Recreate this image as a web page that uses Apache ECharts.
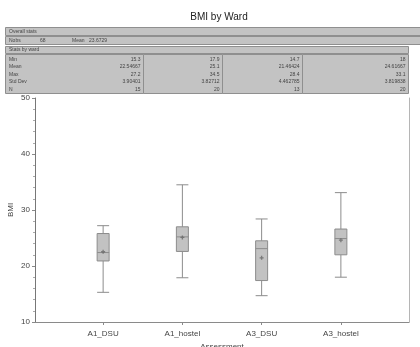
<!DOCTYPE html>
<html>
  <head>
    <meta charset="utf-8" />
    <title>BMI by Ward</title>
    <script src="https://cdn.jsdelivr.net/npm/echarts/dist/echarts.min.js"></script>
  </head>
  <body style="margin:0">
    <div id="main" style="width: 420px; height: 347px"></div>
    <script type="text/javascript">
      var myChart = echarts.init(document.getElementById('main'));

      // 病区
      var wards = ['A1_DSU', 'A1_hostel', 'A3_DSU', 'A3_hostel'];
      // [min, Q1, median, Q3, max]
      var boxes = [
        [15.3, 20.9, 22.4, 25.8, 27.2],
        [17.9, 22.6, 25.2, 27.0, 34.5],
        [14.7, 17.4, 23.1, 24.5, 28.4],
        [18.0, 22.0, 24.9, 26.6, 33.1]
      ];
      var means = [22.55, 25.1, 21.46, 24.62];
      var yTicks = [10, 50, 10]; // min, max, interval

      // 上方统计表
      var overallRow = ['Nobs', '68', 'Mean', '23.6729'];
      var statNames = ['Min', 'Mean', 'Max', 'Std Dev', 'N'];
      var statValues = [
        ['15.3', '22.54667', '27.2', '3.90401', '15'],
        ['17.9', '25.1', '34.5', '3.82712', '20'],
        ['14.7', '21.46424', '28.4', '4.462785', '13'],
        ['18', '24.61667', '33.1', '3.819838', '20']
      ];

      var font = 'Liberation Sans, Arial, sans-serif';
      var panel = '#c3c3c3';
      var edge = '#8f8f8f';
      var txt = { fontSize: 5, fill: '#444', fontFamily: font };

      function rect(x, y, w, h) {
        return { type: 'rect', shape: { x: x, y: y, width: w, height: h },
          style: { fill: panel, stroke: edge, lineWidth: 1 }, silent: true };
      }
      function text(s, x, y, align) {
        return { type: 'text', x: x, y: y, silent: true,
          style: Object.assign({ text: s, align: align || 'left', verticalAlign: 'middle' }, txt) };
      }

      var graphics = [];
      graphics.push(rect(5.5, 27.5, 416, 8));
      graphics.push(rect(5.5, 36.5, 416, 8));
      graphics.push(text('Overall stats', 9, 31.5));
      graphics.push(text(overallRow[0], 9, 40.5));
      graphics.push(text(overallRow[1], 40, 40.5));
      graphics.push(text(overallRow[2], 72, 40.5));
      graphics.push(text(overallRow[3], 89, 40.5));
      graphics.push(rect(5.5, 46.5, 403, 7));
      graphics.push(text('Stats by ward', 9, 50));
      var colEdges = [5.5, 143.5, 222.5, 302.5, 408.5];
      for (var c = 0; c < 4; c++) {
        graphics.push(rect(colEdges[c], 54.5, colEdges[c + 1] - colEdges[c], 39));
        for (var r = 0; r < statNames.length; r++) {
          graphics.push(text(statValues[c][r], colEdges[c + 1] - 3, 59.5 + r * 7.5, 'right'));
        }
      }
      for (var r = 0; r < statNames.length; r++) {
        graphics.push(text(statNames[r], 9, 59.5 + r * 7.5));
      }

      var axisGray = '#8a8a8a';
      var labelStyle = { color: '#444', fontSize: 8, fontFamily: font };

      var option = {
        animation: false,
        backgroundColor: '#fff',
        title: {
          text: 'BMI by Ward',
          left: 214,
          top: 7,
          textAlign: 'center',
          textStyle: { fontSize: 10, fontWeight: 'normal', color: '#222', fontFamily: font }
        },
        graphic: graphics,
        grid: [
          { left: 35, right: 11, top: 98, bottom: 25, outerBoundsMode: 'none', containLabel: false },
          { left: 63.5, right: 39.5, top: 98, bottom: 25, outerBoundsMode: 'none', containLabel: false }
        ],
        xAxis: [
          {
            gridIndex: 0, type: 'value', min: 0, max: 1,
            name: 'Assessment', nameLocation: 'middle', nameGap: 21, nameMoveOverlap: false,
            nameTextStyle: labelStyle,
            axisLine: { show: true, lineStyle: { color: axisGray } },
            axisTick: { show: false }, axisLabel: { show: false }, splitLine: { show: false }
          },
          {
            gridIndex: 1, type: 'category', data: wards,
            axisLine: { show: false },
            axisTick: { show: true, alignWithLabel: true, length: 3, lineStyle: { color: axisGray } },
            axisLabel: Object.assign({ margin: 8 }, labelStyle),
            splitLine: { show: false }
          }
        ],
        yAxis: [
          {
            gridIndex: 0, type: 'value', min: yTicks[0], max: yTicks[1], interval: yTicks[2],
            name: 'BMI', nameLocation: 'middle', nameGap: 20, nameMoveOverlap: false,
            nameTextStyle: labelStyle,
            axisLine: { show: true, lineStyle: { color: '#777' } },
            axisTick: { show: true, length: 3, lineStyle: { color: axisGray } },
            minorTick: { show: true, splitNumber: 5, length: 2, lineStyle: { color: '#aaa' } },
            axisLabel: Object.assign({ margin: 5 }, labelStyle),
            splitLine: { show: false }
          },
          {
            gridIndex: 0, type: 'value', position: 'right', min: yTicks[0], max: yTicks[1],
            axisLine: { show: true, lineStyle: { color: '#b5b5b5' } },
            axisTick: { show: false }, axisLabel: { show: false }, splitLine: { show: false }
          },
          {
            gridIndex: 1, type: 'value', min: yTicks[0], max: yTicks[1], show: false
          }
        ],
        series: [
          {
            type: 'boxplot',
            xAxisIndex: 1,
            yAxisIndex: 2,
            data: boxes,
            boxWidth: [12, 12],
            itemStyle: { color: '#c2c2c2', borderColor: '#8c8c8c', borderWidth: 1 }
          },
          {
            type: 'scatter',
            xAxisIndex: 1,
            yAxisIndex: 2,
            data: means,
            symbol: 'path://M2,0H4V2H6V4H4V6H2V4H0V2H2Z',
            symbolSize: 4,
            itemStyle: { color: '#666' }
          }
        ]
      };

      myChart.setOption(option);
    </script>
  </body>
</html>
